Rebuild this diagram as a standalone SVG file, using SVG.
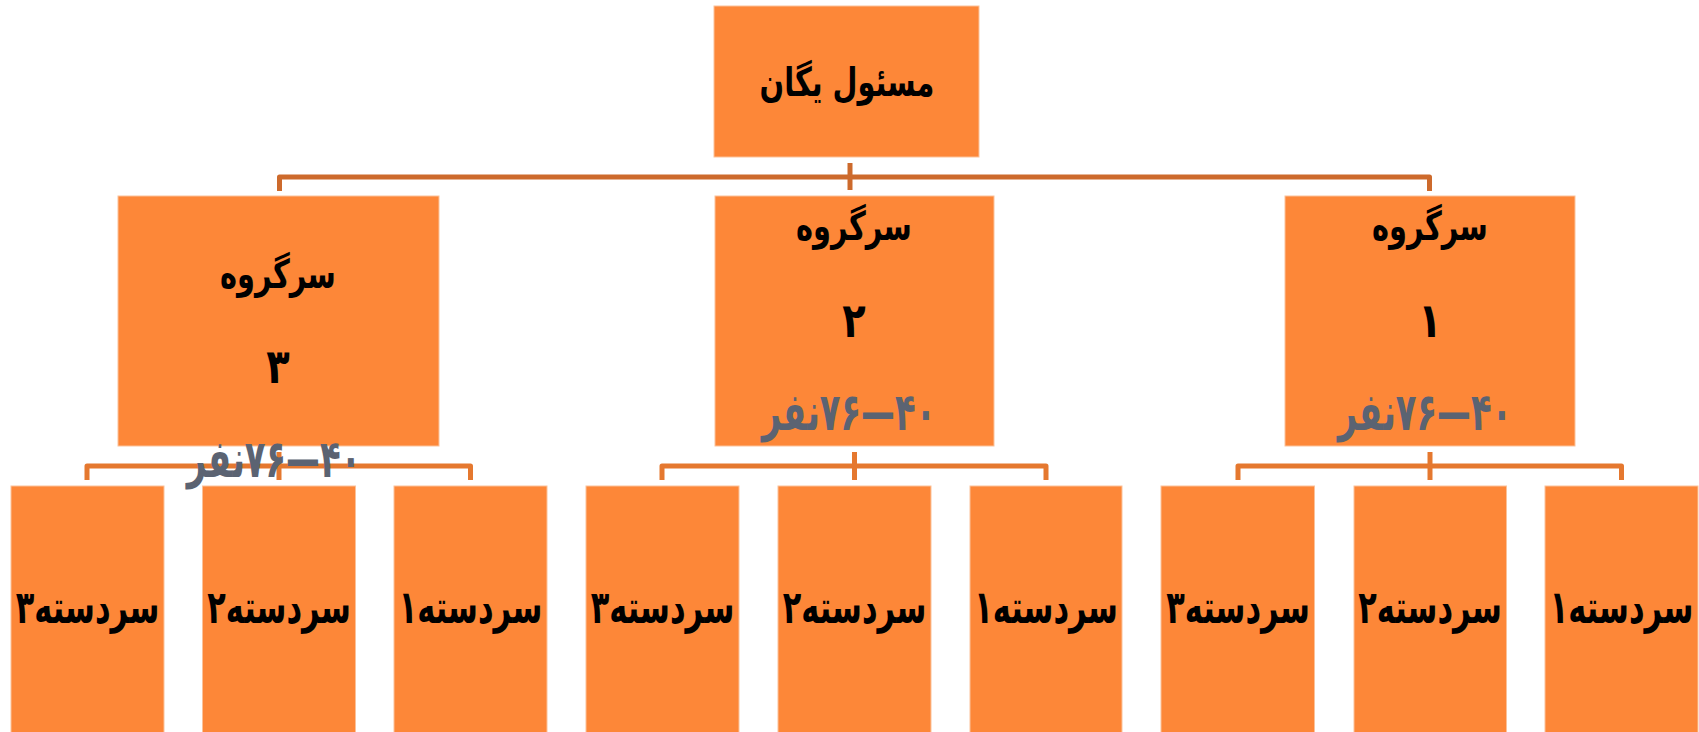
<svg xmlns="http://www.w3.org/2000/svg" width="1699" height="732" viewBox="0 0 1699 732">
<style>
.box{fill:#FD8738;stroke:#FBC29A;stroke-width:1}
.t{font-family:"DejaVu Sans",sans-serif;font-weight:bold;fill:#000;text-anchor:middle;direction:rtl;font-size:40px}
.s{font-family:"DejaVu Sans",sans-serif;font-weight:bold;fill:#000;text-anchor:middle;direction:rtl;font-size:46px}
.d{font-family:"DejaVu Sans",sans-serif;font-weight:bold;fill:#000;text-anchor:middle;direction:rtl;font-size:48px}
.g{font-family:"DejaVu Sans",sans-serif;font-weight:bold;fill:#5B6372;text-anchor:middle;direction:rtl;font-size:52px}
.c1{fill:none;stroke:#CD6A2C;stroke-width:5;stroke-linejoin:round}
.c2{fill:none;stroke:#E5782F;stroke-width:5;stroke-linejoin:round}
</style>
<rect width="1699" height="732" fill="#fff"/>
<g id="connectors">
<path class="c1" d="M279.5,191 V177 H1429.5 V191"/>
<path class="c1" d="M850,163 V190"/>
<path class="c2" d="M87,480 V466 H470.5 V480"/>
<path class="c2" d="M279,452 V480"/>
<path class="c2" d="M662,480 V466 H1046 V480"/>
<path class="c2" d="M854.5,452 V480"/>
<path class="c2" d="M1238,480 V466 H1621.5 V480"/>
<path class="c2" d="M1430,452 V480"/>
</g>
<g id="n-root">
<rect class="box" x="714" y="6" width="265" height="151"/>
<text class="t" transform="translate(847,96) scale(0.72,1)" font-size="42">مسئول یگان</text>
</g>
<g id="n-g3">
<rect class="box" x="118" y="196" width="321" height="250"/>
<text class="t" transform="translate(278,288) scale(0.72,1)">سرگروه</text>
<text class="d" transform="translate(278,383) scale(0.8,1)">۳</text>
<text class="g" transform="translate(274,477) scale(0.65,1)">۴۰—۷۶نفر</text>
</g>
<g id="n-g2">
<rect class="box" x="715" y="196" width="279" height="250"/>
<text class="t" transform="translate(854,240) scale(0.72,1)">سرگروه</text>
<text class="d" transform="translate(854,337) scale(0.8,1)">۲</text>
<text class="g" transform="translate(849,430) scale(0.65,1)">۴۰—۷۶نفر</text>
</g>
<g id="n-g1">
<rect class="box" x="1285" y="196" width="290" height="250"/>
<text class="t" transform="translate(1430,240) scale(0.72,1)">سرگروه</text>
<text class="d" transform="translate(1430,337) scale(0.8,1)">۱</text>
<text class="g" transform="translate(1425,430) scale(0.65,1)">۴۰—۷۶نفر</text>
</g>
<g id="n-g3-s3"><rect class="box" x="11" y="486" width="153" height="260"/><text class="s" transform="translate(87.5,623) scale(0.66,1)">سردسته۳</text></g>
<g id="n-g3-s2"><rect class="box" x="202.5" y="486" width="153" height="260"/><text class="s" transform="translate(279,623) scale(0.66,1)">سردسته۲</text></g>
<g id="n-g3-s1"><rect class="box" x="394" y="486" width="153" height="260"/><text class="s" transform="translate(470.5,623) scale(0.66,1)">سردسته۱</text></g>
<g id="n-g2-s3"><rect class="box" x="586" y="486" width="153" height="260"/><text class="s" transform="translate(662.5,623) scale(0.66,1)">سردسته۳</text></g>
<g id="n-g2-s2"><rect class="box" x="778" y="486" width="153" height="260"/><text class="s" transform="translate(854.5,623) scale(0.66,1)">سردسته۲</text></g>
<g id="n-g2-s1"><rect class="box" x="970" y="486" width="152" height="260"/><text class="s" transform="translate(1046,623) scale(0.66,1)">سردسته۱</text></g>
<g id="n-g1-s3"><rect class="box" x="1161" y="486" width="153.5" height="260"/><text class="s" transform="translate(1238,623) scale(0.66,1)">سردسته۳</text></g>
<g id="n-g1-s2"><rect class="box" x="1354" y="486" width="152.5" height="260"/><text class="s" transform="translate(1430,623) scale(0.66,1)">سردسته۲</text></g>
<g id="n-g1-s1"><rect class="box" x="1545" y="486" width="153" height="260"/><text class="s" transform="translate(1621.5,623) scale(0.66,1)">سردسته۱</text></g>
</svg>
